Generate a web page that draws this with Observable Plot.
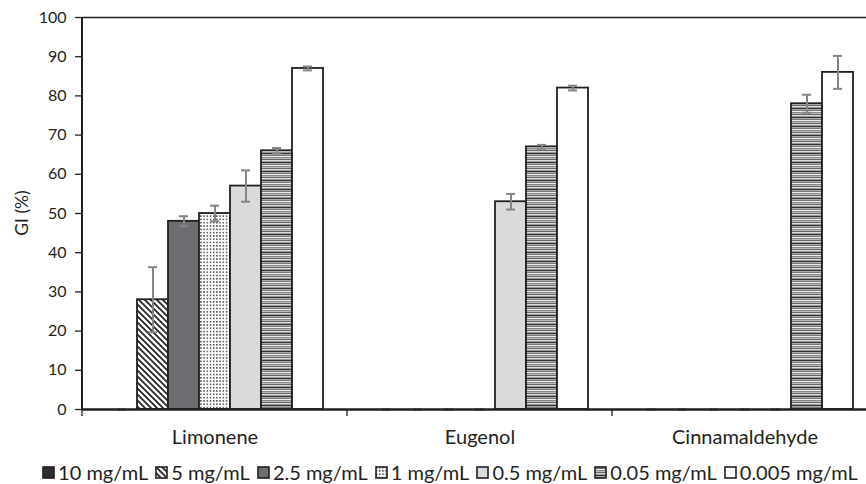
<!DOCTYPE html>
<html><head><meta charset="utf-8">
<script src="https://cdn.jsdelivr.net/npm/d3@7"></script>
<script src="https://cdn.jsdelivr.net/npm/@observablehq/plot@0.6"></script>
<style>
html,body{margin:0;padding:0;background:#fff;overflow:hidden;}
body{width:866px;height:484px;font-family:Lato,sans-serif;}
#legend{display:flex;justify-content:center;align-items:center;gap:7px;font-size:20px;color:#231f20;line-height:20px;padding-left:34px;margin-top:7px;white-space:nowrap;}
.item{display:flex;align-items:center;gap:3px}
.item svg{display:block}
</style></head><body>
<svg width="0" height="0" style="position:absolute">
<defs>
<pattern id="p5" patternUnits="userSpaceOnUse" width="6" height="6">
<rect width="6" height="6" fill="#fff"/>
<path d="M-1,-1L7,7M-4,2L2,8M2,-4L8,2" stroke="#231f20" stroke-width="1.7"/>
</pattern>
<pattern id="p1" patternUnits="userSpaceOnUse" width="3.2" height="3.3">
<rect width="3.2" height="3.3" fill="#fff"/>
<rect x="0.8" y="0.9" width="1.4" height="1.4" fill="#2b2b2b"/>
</pattern>
<pattern id="p005" patternUnits="userSpaceOnUse" width="8" height="9">
<rect y="0" width="8" height="1" fill="#333"/>
<rect y="1" width="8" height="1" fill="#aaa"/>
<rect y="2" width="8" height="1" fill="#777"/>
<rect y="3" width="8" height="1" fill="#eee"/>
<rect y="4" width="8" height="1" fill="#888"/>
<rect y="5" width="8" height="1" fill="#bbb"/>
<rect y="6" width="8" height="1" fill="#666"/>
<rect y="7" width="8" height="1" fill="#ddd"/>
<rect y="8" width="8" height="1" fill="#999"/>
</pattern>
</defs>
</svg>
<div id="chart"></div>
<div id="legend"></div>
<script>
const categories = ["Limonene", "Eugenol", "Cinnamaldehyde"];
const concentrations = ["10 mg/mL", "5 mg/mL", "2.5 mg/mL", "1 mg/mL", "0.5 mg/mL", "0.05 mg/mL", "0.005 mg/mL"];
const limonene = [0, 28, 48, 50, 57, 66, 87];
const limoneneErr = [0, 8.3, 1.3, 2, 4, 0.7, 0.5];
const eugenol = [0, 0, 0, 0, 53, 67, 82];
const eugenolErr = [0, 0, 0, 0, 2, 0.5, 0.6];
const cinnamaldehyde = [0, 0, 0, 0, 0, 78, 86];
const cinnamaldehydeErr = [0, 0, 0, 0, 0, 2.3, 4.2];
const yTicks = [0, 10, 20, 30, 40, 50, 60, 70, 80, 90, 100];
const yLabel = "GI (%)";
const fills = ["#2e2e2e", "url(#p5)", "#6d6e71", "url(#p1)", "#d9dadb", "url(#p005)", "#ffffff"];

const seriesValues = [limonene, eugenol, cinnamaldehyde];
const seriesErrs = [limoneneErr, eugenolErr, cinnamaldehydeErr];
const table = [];
categories.forEach((c, i) => concentrations.forEach((k, j) => {
  table.push({category: c, concentration: k, value: seriesValues[i][j], err: seriesErrs[i][j]});
}));

const ink = "#231f20";
const plot = Plot.plot({
  width: 866, height: 455,
  marginLeft: 81, marginTop: 17, marginBottom: 46, marginRight: 0,
  style: {fontFamily: "Lato, sans-serif", fontSize: "16px", color: ink, background: "transparent"},
  fx: {domain: categories, range: [81, 877], padding: 0, axis: null},
  x: {domain: concentrations, paddingInner: 0, paddingOuter: 0.74, axis: null},
  y: {domain: [0, 100], range: [409, 17], axis: null},
  color: {type: "ordinal", domain: concentrations, range: fills},
  marks: [
    Plot.axisY({ticks: yTicks, tickSize: 7, tickPadding: 9, label: null, fontSize: 16, stroke: ink, strokeWidth: 1.3}),
    Plot.axisFx({anchor: "bottom", tickSize: 0, tickPadding: 20, fontSize: 20, label: null}),
    Plot.barY(table, {fx: "category", x: "concentration", y: "value", fill: "concentration", stroke: ink, strokeWidth: 1.8}),
    Plot.ruleX(table, {fx: "category", x: "concentration", y1: d => d.value - d.err, y2: d => d.value + d.err, stroke: "#858585", strokeWidth: 2}),
    Plot.tickY(table, {fx: "category", x: "concentration", y: d => d.value + d.err, stroke: "#858585", strokeWidth: 2, insetLeft: 11, insetRight: 11}),
    Plot.tickY(table, {fx: "category", x: "concentration", y: d => d.value - d.err, stroke: "#858585", strokeWidth: 2, insetLeft: 11, insetRight: 11}),
    Plot.ruleY([0], {stroke: ink, strokeWidth: 2.5}),
    Plot.ruleY([100], {stroke: ink, strokeWidth: 1.5})
  ]
});
document.getElementById("chart").appendChild(plot);

const fxS = plot.scale("fx"), yS = plot.scale("y");
const svg = d3.select(plot);
// y-axis title, centred on the y scale's range
svg.append("text").text(yLabel)
  .attr("transform", `translate(28,${(yS.apply(0) + yS.apply(100)) / 2}) rotate(-90)`)
  .attr("text-anchor", "middle").attr("font-size", 17.5).attr("fill", ink)
  .attr("font-family", "Lato, sans-serif");
const x0 = fxS.apply(categories[0]);
svg.append("line").attr("x1", x0).attr("x2", x0).attr("y1", yS.apply(0)).attr("y2", yS.apply(100))
  .attr("stroke", ink).attr("stroke-width", 2);
categories.forEach(c => {
  const xx = fxS.apply(c);
  svg.append("line").attr("x1", xx).attr("x2", xx).attr("y1", yS.apply(0)).attr("y2", yS.apply(0) + 7)
    .attr("stroke", ink).attr("stroke-width", 1.3);
});

const legend = d3.select("#legend");
concentrations.forEach((k, j) => {
  const it = legend.append("div").attr("class", "item");
  const s = it.append("svg").attr("width", 13).attr("height", 13);
  s.append("rect").attr("x", 1).attr("y", 1).attr("width", 11).attr("height", 11)
    .attr("fill", fills[j]).attr("stroke", ink).attr("stroke-width", 1.6);
  it.append("span").text(k);
});
</script>
</body></html>
